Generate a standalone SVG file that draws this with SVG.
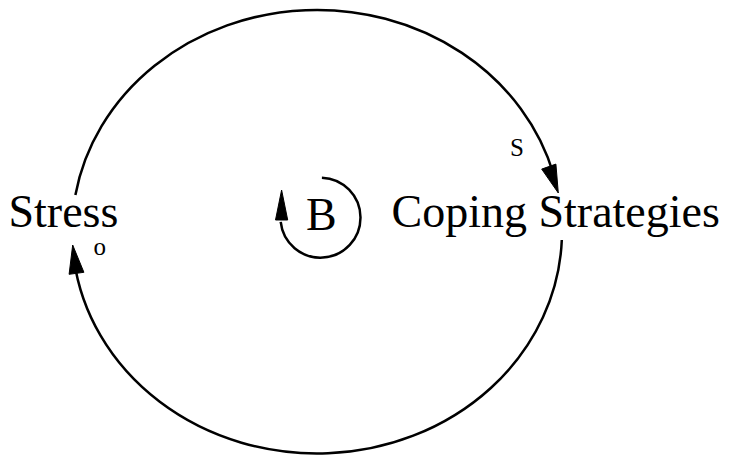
<svg xmlns="http://www.w3.org/2000/svg" width="738" height="458" viewBox="0 0 738 458">
<style>
.lbl{font-family:"Liberation Serif","Times New Roman",serif;font-size:46px;fill:#000}
.pol{font-family:"Liberation Serif","Times New Roman",serif;font-size:25px;fill:#000}
.link{fill:none;stroke:#000;stroke-width:2.5}
.head{fill:#000;stroke:#000;stroke-width:1}
</style>
<rect width="738" height="458" fill="#fff"/>
<g id="connectors">
<path class="link" d="M75.4,195 A245,222 0 0 1 553.8,175"/>
<polygon class="head" points="558.3,193 555.9,164.1 541.7,169.1"/>
<text class="pol" x="510" y="155.5">S</text>
<path class="link" d="M561.8,240 A245,222 0 0 1 74,260"/>
<polygon class="head" points="72.7,245 83.9,272.3 69.1,274.3"/>
<text class="pol" x="93.5" y="254.5">o</text>
</g>
<g id="loop">
<path class="link" d="M321.9,177.7 A40,40 0 1 1 280.7,221.9"/>
<polygon class="head" points="281.6,190 275.5,220 287.7,220"/>
<text class="lbl" x="306" y="230">B</text>
</g>
<g id="stress"><text class="lbl" x="8.5" y="227">Stress</text></g>
<g id="coping"><text class="lbl" x="391.5" y="227">Coping Strategies</text></g>
</svg>
